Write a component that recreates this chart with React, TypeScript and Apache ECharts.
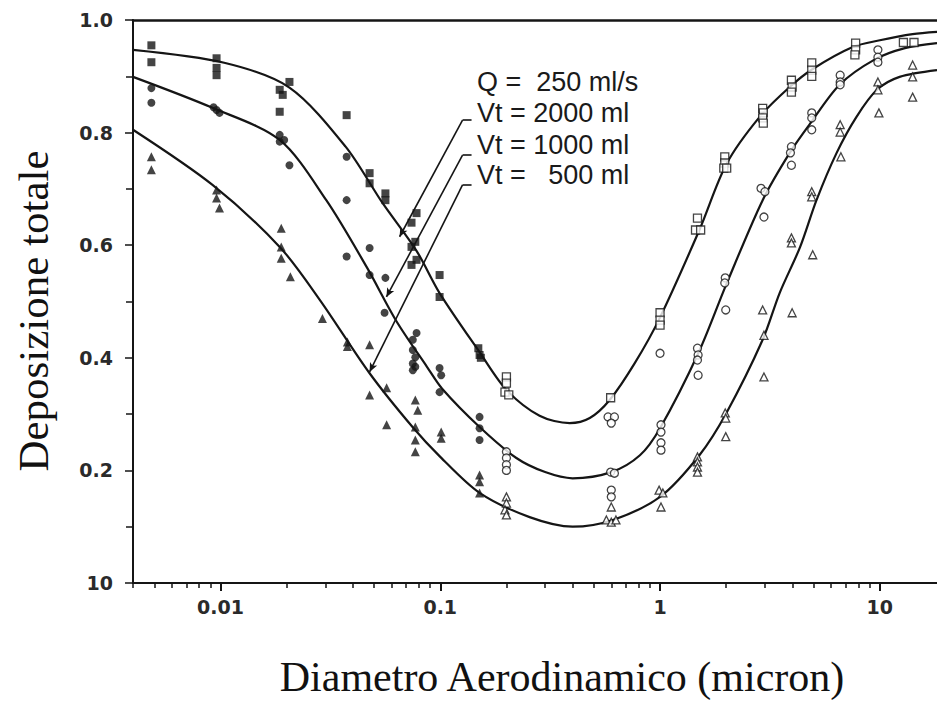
import React, { useEffect, useRef } from "react";
import * as echarts from "echarts";

// ---- axis settings (data space) ----
const X_MIN = 0.004;
const X_MAX = 18.2;
const xLabelValues = [0.01, 0.1, 1, 10];
const xDecades = [0.001, 0.01, 0.1, 1, 10];
const xMultipliers = [2, 3, 4, 5, 6, 7, 8, 9];

// ---- fitted curves: [diameter (micron), deposition] ----
const curve2000: [number, number][] = [
  [0.004, 0.947], [0.0104, 0.924], [0.0206, 0.88], [0.0371, 0.775], [0.0546, 0.675],
  [0.078, 0.59], [0.0993, 0.515], [0.151, 0.41], [0.2, 0.343], [0.283, 0.297],
  [0.388, 0.284], [0.479, 0.293], [0.59, 0.325], [0.766, 0.39], [0.995, 0.47],
  [1.51, 0.627], [2.01, 0.745], [2.84, 0.828], [3.89, 0.881], [4.95, 0.913],
  [7.53, 0.952], [10, 0.964], [14.1, 0.975], [18.2, 0.979],
];
const curve1000: [number, number][] = [
  [0.004, 0.899], [0.0092, 0.844], [0.0186, 0.787], [0.0303, 0.68], [0.0463, 0.561],
  [0.0632, 0.465], [0.087, 0.384], [0.102, 0.345], [0.151, 0.277], [0.222, 0.222],
  [0.3, 0.197], [0.4, 0.186], [0.6, 0.197], [0.81, 0.227], [1.0, 0.275],
  [1.5, 0.41], [2.0, 0.53], [2.93, 0.68], [3.89, 0.764], [4.8, 0.815],
  [6.56, 0.885], [9.5, 0.93], [13, 0.95], [18.2, 0.959],
];
const curve500: [number, number][] = [
  [0.004, 0.805], [0.0092, 0.707], [0.0186, 0.597], [0.0283, 0.503], [0.0476, 0.373],
  [0.0748, 0.277], [0.1, 0.224], [0.151, 0.16], [0.255, 0.117], [0.4, 0.1],
  [0.61, 0.112], [1.0, 0.153], [1.51, 0.227], [2.01, 0.303], [2.93, 0.432],
  [3.5, 0.515], [4.34, 0.597], [5.15, 0.68], [6.36, 0.764], [7.83, 0.828],
  [9.7, 0.876], [12.3, 0.899], [18.2, 0.911],
];

// ---- measured points ----
const filledSquares: [number, number][] = [
  [0.00485, 0.955], [0.00485, 0.925],
  [0.0096, 0.932], [0.0096, 0.915], [0.0096, 0.902],
  [0.0186, 0.876], [0.0192, 0.867], [0.0186, 0.837], [0.0206, 0.89],
  [0.0375, 0.831],
  [0.0477, 0.728], [0.0477, 0.71],
  [0.0563, 0.692], [0.0563, 0.68],
  [0.078, 0.657], [0.074, 0.64], [0.077, 0.606], [0.074, 0.597], [0.078, 0.574], [0.074, 0.565],
  [0.0993, 0.547], [0.0993, 0.508],
  [0.149, 0.417], [0.151, 0.405], [0.153, 0.4],
];
const filledCircles: [number, number][] = [
  [0.00485, 0.879], [0.00485, 0.853],
  [0.0093, 0.845], [0.0096, 0.84], [0.0099, 0.835],
  [0.0186, 0.796], [0.0195, 0.787], [0.0186, 0.784], [0.0206, 0.742],
  [0.0375, 0.757], [0.0375, 0.68], [0.0375, 0.58],
  [0.0477, 0.595], [0.0477, 0.547],
  [0.0558, 0.48], [0.0563, 0.542],
  [0.078, 0.444], [0.075, 0.432], [0.075, 0.414], [0.077, 0.401], [0.075, 0.39], [0.077, 0.384], [0.075, 0.378],
  [0.0993, 0.382], [0.101, 0.369], [0.0993, 0.339],
  [0.151, 0.295], [0.151, 0.275], [0.151, 0.254],
];
const filledTriangles: [number, number][] = [
  [0.00485, 0.757], [0.00485, 0.734],
  [0.0096, 0.698], [0.0096, 0.684], [0.0099, 0.666],
  [0.0189, 0.63], [0.0189, 0.597], [0.0189, 0.577], [0.0208, 0.544],
  [0.0291, 0.47],
  [0.0378, 0.428], [0.0378, 0.42],
  [0.0477, 0.423], [0.0477, 0.334],
  [0.057, 0.347], [0.057, 0.281],
  [0.077, 0.325], [0.079, 0.307], [0.077, 0.277], [0.077, 0.254], [0.077, 0.233],
  [0.101, 0.268], [0.101, 0.257],
  [0.151, 0.192], [0.151, 0.18], [0.151, 0.16],
];
const openSquares: [number, number][] = [
  [0.2, 0.366], [0.2, 0.355], [0.197, 0.339], [0.205, 0.334],
  [0.596, 0.329],
  [1.0, 0.48], [1.0, 0.467], [1.0, 0.458],
  [1.48, 0.648], [1.45, 0.627], [1.53, 0.627],
  [1.97, 0.757], [1.97, 0.746], [1.95, 0.737], [2.01, 0.737],
  [2.93, 0.843], [2.95, 0.835], [2.93, 0.826], [2.95, 0.817],
  [3.96, 0.893], [3.99, 0.881], [3.96, 0.872],
  [4.9, 0.924], [4.9, 0.911], [4.9, 0.9],
  [7.76, 0.959], [7.76, 0.947], [7.7, 0.938],
  [12.8, 0.96], [14.3, 0.96],
];
const openCircles: [number, number][] = [
  [0.58, 0.295], [0.62, 0.295], [0.6, 0.284],
  [0.2, 0.233], [0.2, 0.222], [0.2, 0.21], [0.2, 0.2],
  [0.596, 0.197], [0.62, 0.195], [0.6, 0.165], [0.6, 0.153],
  [1.0, 0.408], [1.01, 0.281], [1.01, 0.268], [1.01, 0.249], [1.01, 0.236],
  [1.48, 0.417], [1.49, 0.405], [1.48, 0.396], [1.49, 0.369],
  [1.98, 0.542], [1.97, 0.533], [1.99, 0.485],
  [2.88, 0.701], [3.0, 0.695], [2.97, 0.65],
  [3.96, 0.775], [3.92, 0.764], [3.96, 0.742],
  [4.9, 0.835], [4.9, 0.826], [4.9, 0.805],
  [6.6, 0.902], [6.6, 0.89], [6.6, 0.885],
  [9.8, 0.947], [9.8, 0.934], [9.8, 0.925],
];
const openTriangles: [number, number][] = [
  [0.2, 0.153], [0.2, 0.142], [0.197, 0.13], [0.2, 0.121],
  [0.6, 0.135], [0.57, 0.112], [0.6, 0.108], [0.63, 0.112],
  [0.99, 0.165], [1.03, 0.16], [1.01, 0.135],
  [1.48, 0.224], [1.48, 0.215], [1.48, 0.206], [1.48, 0.197],
  [1.98, 0.302], [1.99, 0.293], [1.99, 0.26],
  [2.93, 0.485], [2.97, 0.44], [2.97, 0.366],
  [3.96, 0.613], [3.96, 0.604], [3.99, 0.48],
  [4.9, 0.695], [4.9, 0.686], [4.95, 0.583],
  [6.6, 0.814], [6.6, 0.801], [6.65, 0.757],
  [9.8, 0.89], [9.8, 0.876], [9.9, 0.835],
  [14.1, 0.92], [14.1, 0.899], [14.1, 0.863],
];

// ---- annotation leader lines: [bottom end, top end, hook end] ----
const leader2000: [number, number][] = [[0.0653, 0.615], [0.1263, 0.822], [0.1388, 0.822]];
const leader1000: [number, number][] = [[0.0569, 0.508], [0.1263, 0.76], [0.1388, 0.76]];
const leader500: [number, number][] = [[0.0477, 0.375], [0.1263, 0.707], [0.1388, 0.707]];

const annotationLabels = ["Q =  250 ml/s", "Vt = 2000 ml", "Vt = 1000 ml", "Vt =   500 ml"];
const xTitle = "Diametro Aerodinamico (micron)";
const yTitle = "Deposizione totale";

const INK = "#151515";
const TICK_FONT = "DejaVu Sans";

function buildOption(): echarts.EChartsCoreOption {
  const minorTickValues: number[] = [];
  xDecades.forEach((d) => xMultipliers.forEach((m) => minorTickValues.push(+(d * m).toPrecision(6))));

  const curve = (data: [number, number][]) => ({
    type: "line",
    data,
    showSymbol: false,
    smooth: 0.3,
    silent: true,
    lineStyle: { color: INK, width: 2.2 },
    z: 2,
  });

  const scatter = (data: [number, number][], symbol: string, filled: boolean, size: number) => ({
    type: "scatter",
    data,
    symbol,
    symbolSize: size,
    itemStyle: filled
      ? { color: INK }
      : { color: "#ffffff", borderColor: INK, borderWidth: 1.3 },
    z: 3,
  });

  const leaderLines = (pts: [number, number][]) => [
    [
      { coord: pts[0], symbol: "arrow", symbolSize: [6, 9] },
      { coord: pts[1], symbol: "none" },
    ],
    [
      { coord: pts[1], symbol: "none" },
      { coord: pts[2], symbol: "none" },
    ],
  ];

  const labelY = [82, 113, 145, 175];

  const logAxisBase = {
    type: "log",
    logBase: 10,
    min: X_MIN,
    max: X_MAX,
    splitLine: { show: false },
    minorTick: { show: false },
  };

  return {
    animation: false,
    backgroundColor: "#ffffff",
    grid: { left: 133, right: 0, top: 20, bottom: 119, containLabel: false },
    xAxis: [
      {
        ...logAxisBase,
        position: "bottom",
        axisLine: { show: true, onZero: false, lineStyle: { color: INK, width: 2 } },
        axisTick: {
          show: true,
          inside: false,
          length: 5,
          customValues: minorTickValues,
          lineStyle: { color: INK, width: 1.5 },
        },
        axisLabel: {
          customValues: xLabelValues,
          margin: 14,
          fontFamily: TICK_FONT,
          fontWeight: "bold",
          fontSize: 19,
          color: "#2a2a2a",
          formatter: (v: number) => String(v),
        },
      },
      {
        ...logAxisBase,
        position: "bottom",
        axisLine: { show: false, onZero: false },
        axisTick: {
          show: true,
          inside: false,
          length: 8,
          customValues: xLabelValues,
          lineStyle: { color: INK, width: 2 },
        },
        axisLabel: { show: false },
      },
      {
        ...logAxisBase,
        position: "top",
        axisLine: { show: true, onZero: false, lineStyle: { color: INK, width: 2.5 } },
        axisTick: { show: false },
        axisLabel: { show: false },
      },
    ],
    yAxis: {
      type: "value",
      min: 0,
      max: 1,
      interval: 0.2,
      axisLine: { show: true, onZero: false, lineStyle: { color: INK, width: 2 } },
      axisTick: { show: true, length: 8, lineStyle: { color: INK, width: 1.5 } },
      minorTick: { show: true, splitNumber: 2, length: 7, lineStyle: { color: INK, width: 1.5 } },
      splitLine: { show: false },
      minorSplitLine: { show: false },
      axisLabel: {
        margin: 20,
        fontFamily: TICK_FONT,
        fontWeight: "bold",
        fontSize: 19,
        color: "#2a2a2a",
        formatter: (v: number) => (v === 0 ? "10" : v.toFixed(1)),
      },
    },
    series: [
      curve(curve2000),
      curve(curve1000),
      curve(curve500),
      scatter(filledSquares, "rect", true, 8),
      scatter(filledCircles, "circle", true, 8),
      scatter(filledTriangles, "triangle", true, 9),
      scatter(openSquares, "rect", false, 8),
      scatter(openCircles, "circle", false, 8),
      scatter(openTriangles, "triangle", false, 8),
      {
        type: "line",
        data: [],
        silent: true,
        markLine: {
          silent: true,
          animation: false,
          label: { show: false },
          lineStyle: { color: INK, width: 1.6, type: "solid" },
          symbol: ["arrow", "none"],
          data: [...leaderLines(leader2000), ...leaderLines(leader1000), ...leaderLines(leader500)],
        },
      },
    ],
    graphic: [
      ...annotationLabels.map((t, i) => ({
        type: "text",
        left: 477,
        top: labelY[i] - 14,
        style: {
          text: t,
          fill: "#1a1a1a",
          font: "27px 'Liberation Sans', Arial, sans-serif",
        },
      })),
      {
        type: "text",
        x: 562,
        y: 677,
        style: {
          text: xTitle,
          fill: "#111111",
          font: "42px 'Liberation Serif', 'Times New Roman', serif",
          align: "center",
          verticalAlign: "middle",
        },
      },
      {
        type: "text",
        x: 33,
        y: 311,
        rotation: Math.PI / 2,
        style: {
          text: yTitle,
          fill: "#111111",
          font: "43px 'Liberation Serif', 'Times New Roman', serif",
          align: "center",
          verticalAlign: "middle",
        },
      },
    ],
  };
}

export default function App() {
  const ref = useRef<HTMLDivElement>(null);
  useEffect(() => {
    if (!ref.current) return;
    const chart = echarts.init(ref.current, undefined, { renderer: "svg" });
    chart.setOption(buildOption());
    return () => chart.dispose();
  }, []);
  return (
    <div
      ref={ref}
      style={{ position: "absolute", left: 0, top: 0, width: 937, height: 702, background: "#fff" }}
    />
  );
}
